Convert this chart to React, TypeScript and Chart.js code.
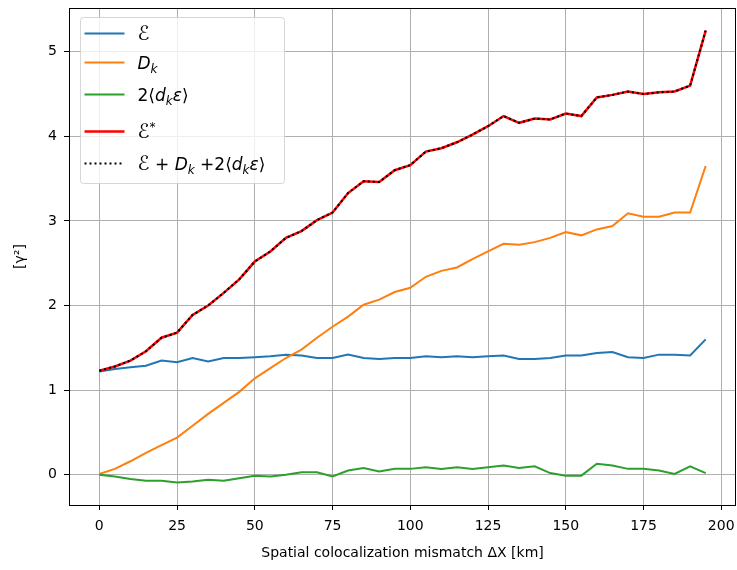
import React, { useEffect, useRef } from 'react';
import { Chart, registerables } from 'chart.js';

Chart.register(...registerables);

// ---- data ----
const distanceKm = [
  0, 5, 10, 15, 20, 25, 30, 35, 40, 45, 50, 55, 60, 65, 70, 75, 80, 85, 90, 95,
  100, 105, 110, 115, 120, 125, 130, 135, 140, 145, 150, 155, 160, 165, 170, 175, 180, 185, 190, 195,
];
const epsilonVals = [
  1.22, 1.25, 1.27, 1.29, 1.35, 1.33, 1.38, 1.34, 1.38, 1.38, 1.39, 1.40, 1.42, 1.41, 1.38, 1.38, 1.42, 1.38, 1.37, 1.38,
  1.38, 1.40, 1.39, 1.40, 1.39, 1.40, 1.41, 1.37, 1.37, 1.38, 1.41, 1.41, 1.44, 1.45, 1.39, 1.38, 1.42, 1.42, 1.41, 1.60,
];
const dkVals = [
  0.01, 0.07, 0.16, 0.26, 0.35, 0.44, 0.58, 0.72, 0.85, 0.98, 1.14, 1.26, 1.38, 1.48, 1.62, 1.75, 1.87, 2.01, 2.07, 2.16,
  2.21, 2.34, 2.41, 2.45, 2.55, 2.64, 2.73, 2.72, 2.75, 2.80, 2.87, 2.83, 2.90, 2.94, 3.09, 3.05, 3.05, 3.10, 3.10, 3.65,
];
const crossVals = [
  0.0, -0.02, -0.05, -0.07, -0.07, -0.09, -0.08, -0.06, -0.07, -0.04, -0.01, -0.02, 0.0, 0.03, 0.03, -0.02, 0.05, 0.08, 0.04, 0.07,
  0.07, 0.09, 0.07, 0.09, 0.07, 0.09, 0.11, 0.08, 0.10, 0.02, -0.01, -0.01, 0.13, 0.11, 0.07, 0.07, 0.05, 0.01, 0.10, 0.02,
];
const epsStarVals = [
  1.23, 1.28, 1.35, 1.46, 1.62, 1.68, 1.89, 2.00, 2.15, 2.31, 2.52, 2.64, 2.80, 2.88, 3.01, 3.10, 3.33, 3.47, 3.46, 3.60,
  3.66, 3.82, 3.86, 3.93, 4.02, 4.12, 4.24, 4.16, 4.21, 4.20, 4.27, 4.24, 4.46, 4.49, 4.53, 4.50, 4.52, 4.53, 4.60, 5.25,
];
const sumTermsVals = [
  1.23, 1.28, 1.35, 1.46, 1.62, 1.68, 1.89, 2.00, 2.15, 2.31, 2.52, 2.64, 2.80, 2.88, 3.01, 3.10, 3.33, 3.47, 3.46, 3.60,
  3.66, 3.82, 3.86, 3.93, 4.02, 4.12, 4.24, 4.16, 4.21, 4.20, 4.27, 4.24, 4.46, 4.49, 4.53, 4.50, 4.52, 4.53, 4.60, 5.25,
];
const xTickValues = [0, 25, 50, 75, 100, 125, 150, 175, 200];
const yTickValues = [0, 1, 2, 3, 4, 5];
const xLimits = [-9.75, 204.75];
const yLimits = [-0.357, 5.517];
const xTitle = 'Spatial colocalization mismatch ΔX [km]';
const yTitle = '[γ²]';

type Seg = { t: string; it?: boolean; sub?: boolean; sup?: boolean; big?: boolean };
const legendEntries: { color: string; dash: number[]; width: number; segs: Seg[] }[] = [
  { color: '#1f77b4', dash: [], width: 2, segs: [{ t: 'ℰ', big: true }] },
  { color: '#ff7f0e', dash: [], width: 2, segs: [{ t: 'D', it: true }, { t: 'k', it: true, sub: true }] },
  {
    color: '#2ca02c', dash: [], width: 2,
    segs: [{ t: '2⟨' }, { t: 'd', it: true }, { t: 'k', it: true, sub: true }, { t: 'ε', it: true }, { t: '⟩' }],
  },
  { color: '#ff0000', dash: [], width: 2.5, segs: [{ t: 'ℰ', big: true }, { t: '*', sup: true }] },
  {
    color: '#000000', dash: [2, 3], width: 2,
    segs: [
      { t: 'ℰ', big: true }, { t: ' + ' }, { t: 'D', it: true }, { t: 'k', it: true, sub: true }, { t: ' +2⟨' },
      { t: 'd', it: true }, { t: 'k', it: true, sub: true }, { t: 'ε', it: true }, { t: '⟩' },
    ],
  },
];

const FONT = '"DejaVu Sans"';
const LEGEND_SIZE = 17;
const LEGEND_SUB = 12;

function toPoints(vals: number[]) {
  return distanceKm.map((x, i) => ({ x, y: vals[i] }));
}

const framePlugin = {
  id: 'frame',
  afterDraw(chart: any) {
    const { ctx, chartArea: ca } = chart;
    ctx.save();
    ctx.strokeStyle = '#000';
    ctx.lineWidth = 1;
    ctx.strokeRect(Math.round(ca.left) + 0.5, Math.round(ca.top) + 0.5, Math.round(ca.right - ca.left) - 1, Math.round(ca.bottom - ca.top));
    ctx.restore();
  },
};

const mathLegendPlugin = {
  id: 'mathLegend',
  afterDraw(chart: any) {
    const { ctx, chartArea: ca } = chart;
    const left = ca.left + 11.5;
    const top = ca.top + 9.5;
    const w = 204;
    const h = 166;
    const r = 3;
    ctx.save();
    ctx.beginPath();
    ctx.moveTo(left + r, top);
    ctx.lineTo(left + w - r, top);
    ctx.arcTo(left + w, top, left + w, top + r, r);
    ctx.lineTo(left + w, top + h - r);
    ctx.arcTo(left + w, top + h, left + w - r, top + h, r);
    ctx.lineTo(left + r, top + h);
    ctx.arcTo(left, top + h, left, top + h - r, r);
    ctx.lineTo(left, top + r);
    ctx.arcTo(left, top, left + r, top, r);
    ctx.closePath();
    ctx.fillStyle = 'rgba(255,255,255,0.8)';
    ctx.fill();
    ctx.strokeStyle = 'rgba(204,204,204,0.8)';
    ctx.lineWidth = 1;
    ctx.stroke();

    const rowOffsets = [16, 45, 77, 114, 146];
    legendEntries.forEach((e, i) => {
      const cy = top + rowOffsets[i];
      ctx.beginPath();
      ctx.setLineDash(e.dash);
      ctx.strokeStyle = e.color;
      ctx.lineWidth = e.width;
      ctx.moveTo(left + 4, cy);
      ctx.lineTo(left + 44, cy);
      ctx.stroke();
      ctx.setLineDash([]);
      let cx = left + 57;
      const base = cy + 6;
      ctx.fillStyle = '#000';
      ctx.textBaseline = 'alphabetic';
      ctx.textAlign = 'left';
      for (const s of e.segs) {
        const size = s.sub || s.sup ? LEGEND_SUB : s.big ? LEGEND_SIZE + 3 : LEGEND_SIZE;
        ctx.font = `${s.it ? 'italic ' : ''}${size}px ${FONT}`;
        const dy = s.sub ? 4 : s.sup ? -7 : 0;
        ctx.fillText(s.t, cx, base + dy);
        cx += ctx.measureText(s.t).width;
      }
    });
    ctx.restore();
  },
};

export default function App() {
  const canvasRef = useRef<HTMLCanvasElement | null>(null);

  useEffect(() => {
    const canvas = canvasRef.current;
    if (!canvas) return;
    const chart = new Chart(canvas, {
      type: 'line',
      data: {
        datasets: [
          { label: 'ℰ', data: toPoints(epsilonVals), borderColor: '#1f77b4', borderWidth: 2, order: 4 },
          { label: 'D_k', data: toPoints(dkVals), borderColor: '#ff7f0e', borderWidth: 2, order: 3 },
          { label: '2⟨d_kε⟩', data: toPoints(crossVals), borderColor: '#2ca02c', borderWidth: 2, order: 2 },
          { label: 'ℰ*', data: toPoints(epsStarVals), borderColor: '#ff0000', borderWidth: 2.5, order: 1 },
          {
            label: 'ℰ + D_k +2⟨d_kε⟩', data: toPoints(sumTermsVals), borderColor: '#000000',
            borderWidth: 2, borderDash: [2, 3], order: 0,
          },
        ] as any,
      },
      options: {
        responsive: false,
        animation: false,
        devicePixelRatio: 1,
        elements: { point: { radius: 0, hoverRadius: 0 }, line: { tension: 0 } },
        layout: { padding: { top: 8, right: 1, left: 0, bottom: 0 } },
        plugins: { legend: { display: false }, tooltip: { enabled: false } },
        scales: {
          x: {
            type: 'linear',
            min: xLimits[0],
            max: xLimits[1],
            afterBuildTicks: (scale: any) => {
              scale.ticks = xTickValues.map((v) => ({ value: v }));
            },
            afterFit: (scale: any) => {
              scale.height = 65;
              scale.paddingLeft = 0;
              scale.paddingRight = 0;
            },
            grid: { color: '#b0b0b0', lineWidth: 1, tickColor: '#000', tickLength: 5, drawTicks: true },
            border: { display: false },
            ticks: {
              color: '#000', font: { family: FONT, size: 14 }, padding: 8, maxRotation: 0,
              callback: (v: any) => String(v),
            },
            title: {
              display: true, text: xTitle, color: '#000', font: { family: FONT, size: 14 },
              padding: { top: 0, bottom: 8 },
            },
          },
          y: {
            type: 'linear',
            min: yLimits[0],
            max: yLimits[1],
            afterBuildTicks: (scale: any) => {
              scale.ticks = yTickValues.map((v) => ({ value: v }));
            },
            afterFit: (scale: any) => {
              scale.width = 69;
              scale.paddingTop = 0;
              scale.paddingBottom = 0;
            },
            grid: { color: '#b0b0b0', lineWidth: 1, tickColor: '#000', tickLength: 5, drawTicks: true },
            border: { display: false },
            ticks: {
              color: '#000', font: { family: FONT, size: 14 }, padding: 7,
              callback: (v: any) => String(v),
            },
            title: {
              display: true, text: yTitle, color: '#000', font: { family: FONT, size: 14 },
              padding: { top: 11.6, bottom: 0 },
            },
          },
        },
      } as any,
      plugins: [framePlugin, mathLegendPlugin],
    });
    return () => chart.destroy();
  }, []);

  return (
    <div style={{ position: 'fixed', left: 0, top: 0, width: 737, height: 570, background: '#fff' }}>
      <canvas ref={canvasRef} width={737} height={570} style={{ width: 737, height: 570, display: 'block' }} />
    </div>
  );
}
